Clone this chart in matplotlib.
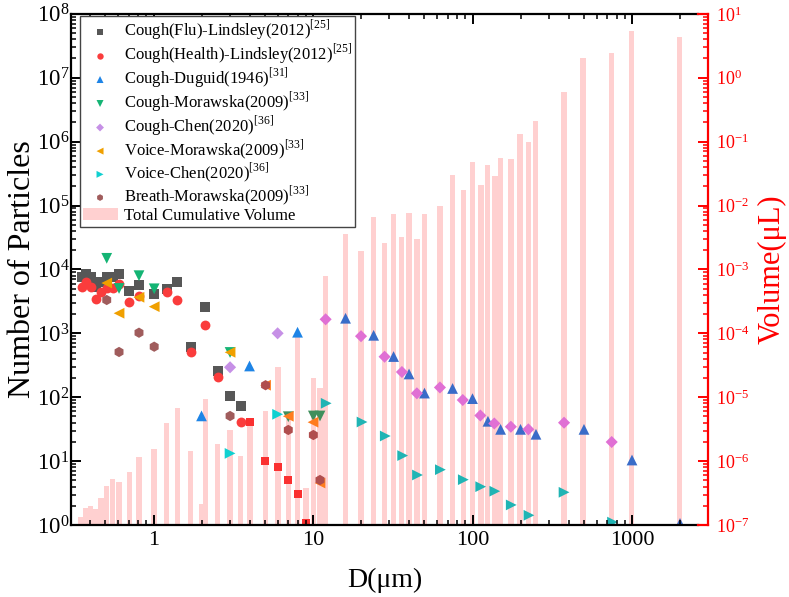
import numpy as np
import matplotlib
matplotlib.use('Agg')
import matplotlib.pyplot as plt
from matplotlib.lines import Line2D
from matplotlib.ticker import LogLocator, NullFormatter

plt.rcParams['font.family'] = ['Liberation Serif', 'DejaVu Serif']
plt.rcParams['mathtext.fontset'] = 'stix'
plt.rcParams['axes.unicode_minus'] = False

# ---- data ----
flu_d = [0.355, 0.376, 0.404, 0.436, 0.467, 0.509, 0.555, 0.608, 0.705, 0.811, 1.01, 1.21, 1.41, 1.71, 2.10, 2.53, 3.02, 3.52]
flu_n = [7500, 8400, 7500, 5400, 6400, 7700, 7700, 8500, 4600, 5700, 4100, 4900, 6400, 620, 2600, 260, 104, 73]

hea_d = [0.355, 0.376, 0.404, 0.436, 0.467, 0.509, 0.555, 0.608, 0.705, 0.811, 1.21, 1.41, 1.71, 2.10, 2.53, 3.52]
hea_n = [5300, 6300, 5250, 3500, 4400, 5200, 5100, 5850, 3100, 3900, 4400, 3300, 515, 1350, 205, 41]
# red squares (same source, larger sizes)
hea2_d = [4.03, 5.02, 6.01, 7.0, 8.02, 9.04]
hea2_n = [41, 10.2, 8.2, 5.1, 3.05, 1.07]

dug_d = [2, 4, 8, 16, 24, 32, 40, 50, 75, 100, 125, 150, 200, 250, 500, 1000, 2000]
dug_n = [51, 308, 1040, 1720, 930, 433, 231, 116, 137, 95, 42, 31.4, 31.4, 26.3, 31.4, 10.4, 1.06]

mc_d = [0.509, 0.608, 0.811, 1.01, 3.02, 7.0, 10.05, 11.06]
mc_n = [14900, 5030, 7970, 4970, 501, 49.5, 50.8, 50.8]

cc_d = [3.02, 6.0, 12.0, 20.0, 28.1, 36.1, 44.8, 62.5, 86.9, 112, 137, 174, 224, 375, 746]
cc_n = [294, 1000, 1656, 901, 430, 248, 115, 142, 90.4, 51.7, 38.8, 34.5, 31.4, 39.9, 19.9]

vm_d = [0.509, 0.608, 0.811, 1.01, 3.02, 5.04, 7.0, 10.0, 11.06]
vm_n = [6120, 2060, 3660, 2610, 504, 154, 50.3, 40.6, 4.54]

vc_d = [3.02, 6.0, 12.1, 20.3, 28.4, 36.5, 45.2, 62.9, 87.6, 112.6, 138, 175, 226, 375, 755]
vc_n = [13.2, 54, 80.3, 40.9, 24.7, 12.2, 6.06, 7.34, 5.12, 3.98, 3.38, 2.06, 1.42, 3.25, 1.11]

bm_d = [0.509, 0.608, 0.811, 1.01, 3.02, 5.04, 7.0, 10.05, 11.06]
bm_n = [3320, 510, 1021, 617, 50.8, 154, 30.7, 25.6, 5.06]

bar_d = [0.351, 0.376, 0.404, 0.434, 0.467, 0.509, 0.555, 0.608, 0.705, 0.811,
         1.01, 1.21, 1.41, 1.71, 2.02, 2.12, 2.52, 3.02, 3.50, 4.03,
         5.04, 6.03, 7.0, 8.0, 9.03, 10.05, 11.06, 12.0, 16.0, 20.0,
         23.9, 28.0, 32.0, 35.9, 40.0, 44.9, 49.9, 62.6, 74.9, 87.6,
         99.9, 112.7, 124, 138, 149.5, 174, 199, 225, 249, 375,
         494, 746, 992, 1982]
bar_v = [1.35e-7, 1.87e-7, 1.98e-7, 1.76e-7, 2.63e-7, 4.08e-7, 5.21e-7, 4.76e-7, 6.75e-7, 1.15e-6,
         1.53e-6, 3.99e-6, 6.83e-6, 1.43e-6, 2.12e-7, 9.3e-6, 1.83e-6, 3.07e-6, 1.22e-6, 4.02e-6,
         6.12e-6, 3.0e-5, 4.68e-6, 8.75e-5, 3.82e-7, 2.02e-5, 1.40e-5, 7.88e-4, 3.54e-3, 1.94e-3,
         6.49e-3, 2.62e-3, 7.28e-3, 3.21e-3, 7.55e-3, 2.94e-3, 7.41e-3, 9.82e-3, 0.030, 0.0175,
         0.0485, 0.0209, 0.0426, 0.0290, 0.0544, 0.0528, 0.130, 0.0986, 0.210, 0.604,
         2.03, 2.44, 5.44, 4.38]

W, H = 789, 597
fig = plt.figure(figsize=(W/100, H/100), dpi=100)
ax1 = fig.add_axes([71/W, 72/H, 627/W, 511.2/H])
ax1.set_xscale('log')
ax1.set_yscale('log')
ax2 = ax1.twinx()
ax2.set_yscale('log')
ax1.set_zorder(ax2.get_zorder() + 1)
ax1.patch.set_visible(False)

# bars, constant width in log space
w = 0.0345
left = [d * 10**(-w/2) for d in bar_d]
widths = [d * (10**(w/2) - 10**(-w/2)) for d in bar_d]
bars = ax2.bar(left, [v - 1e-9 for v in bar_v], width=widths, bottom=1e-9, align='edge',
               color='#ffd0d0', linewidth=0, label='Total Cumulative Volume')

def shade(ds, c1, c2, cut):
    return [c1 if d < cut else c2 for d in ds]

ax1.scatter(flu_d, flu_n, marker='s', s=42, c='#575757', lw=0, label=r'Cough(Flu)-Lindsley(2012)$^{\mathdefault{[25]}}$')
ax1.scatter(hea_d, hea_n, marker='o', s=50, c='#fa3c3c', lw=0, label=r'Cough(Health)-Lindsley(2012)$^{\mathdefault{[25]}}$')
ax1.scatter(dug_d, dug_n, marker='^', s=60, c=shade(dug_d, '#1e84e6', '#3a6cc8', 10), lw=0, label=r'Cough-Duguid(1946)$^{\mathdefault{[31]}}$')
ax1.scatter(mc_d, mc_n, marker='v', s=60, c=shade(mc_d, '#14b474', '#3f8f5c', 5), lw=0, label=r'Cough-Morawska(2009)$^{\mathdefault{[33]}}$')
ax1.scatter(cc_d, cc_n, marker='D', s=38, c=shade(cc_d, '#c690e6', '#e070d4', 10), lw=0, label=r'Cough-Chen(2020)$^{\mathdefault{[36]}}$')
ax1.scatter(vm_d, vm_n, marker='<', s=60, c=shade(vm_d, '#f0a000', '#ff7c1e', 5), lw=0, label=r'Voice-Morawska(2009)$^{\mathdefault{[33]}}$')
ax1.scatter(vc_d, vc_n, marker='>', s=60, c=shade(vc_d, '#10d0d0', '#20b4b4', 10), lw=0, label=r'Voice-Chen(2020)$^{\mathdefault{[36]}}$')
ax1.scatter(bm_d, bm_n, marker='h', s=55, c=shade(bm_d, '#a05c5c', '#b04e4e', 5), lw=0, label=r'Breath-Morawska(2009)$^{\mathdefault{[33]}}$')
ax1.scatter(hea2_d, hea2_n, marker='s', s=36, c='#fa3030', lw=0)

ax1.set_xlim(0.3039, 2593)
ax1.set_ylim(1, 1e8)
ax2.set_ylim(1e-7, 10)

for ax in (ax1, ax2):
    ax.yaxis.set_major_locator(LogLocator(base=10, numticks=20))
    ax.yaxis.set_minor_locator(LogLocator(base=10, subs=np.arange(2, 10), numticks=100))
    ax.yaxis.set_minor_formatter(NullFormatter())
    ax.xaxis.offsetText.set_visible(False)
    ax.yaxis.offsetText.set_visible(False)
ax1.xaxis.set_minor_locator(LogLocator(base=10, subs=np.arange(2, 10), numticks=100))
ax1.xaxis.set_minor_formatter(NullFormatter())
ax1.set_xticks([1, 10, 100, 1000])
ax1.set_xticklabels(['1', '10', '100', '1000'])
ax2.tick_params(axis='x', which='both', bottom=False, top=False, labelbottom=False, labeltop=False)

ax1.tick_params(which='both', direction='in', top=True, right=False, width=1.4)
ax1.tick_params(which='major', length=7)
ax1.tick_params(which='minor', length=3.5, width=1.1)
ax1.tick_params(axis='y', labelsize=16.5, pad=1)
ax1.tick_params(axis='x', labelsize=16, pad=4)

ax2.tick_params(axis='y', which='both', direction='in', colors='red', width=1.4, labelsize=13, pad=6)
ax2.tick_params(axis='y', which='major', length=7)
ax2.tick_params(axis='y', which='minor', length=3.5, width=1.1)

for s in ax1.spines.values():
    s.set_linewidth(1.6)
ax1.spines['right'].set_visible(False)
for k in ('left', 'top', 'bottom'):
    ax2.spines[k].set_visible(False)
ax2.spines['right'].set_color('red')
ax2.spines['right'].set_linewidth(1.6)
ax2.spines['right'].set_position(('outward', 7.2))

# red stubs joining the frame to the shifted right axis
x0 = 698 / W
x1 = 708 / W
for yy in (72 / H, (72 + 511.2) / H):
    fig.add_artist(Line2D([x0, x1], [yy, yy], transform=fig.transFigure, color='red', lw=1.6))

ax1.set_xlabel('D(μm)', fontsize=20)
ax1.xaxis.set_label_coords(0.5, -0.083)
ax1.set_ylabel('Number of Particles', fontsize=23)
ax1.yaxis.set_label_coords(-0.055, 0.5)
ax2.set_ylabel('Volume(μL)', color='red', fontsize=22)
ax2.yaxis.set_label_coords(1.095, 0.5)

h, l = ax1.get_legend_handles_labels()
h.append(bars)
l.append('Total Cumulative Volume')
leg = ax1.legend(h, l, loc='upper left', bbox_to_anchor=(0.0144, 0.9957), borderaxespad=0,
                 fontsize=12, scatterpoints=1, markerscale=0.65, fancybox=False,
                 edgecolor='#444444', framealpha=1, handlelength=2.1, handletextpad=0.4,
                 labelspacing=0.0, borderpad=0.15)
leg.get_frame().set_linewidth(1.0)

fig.savefig('out.png', dpi=100)
